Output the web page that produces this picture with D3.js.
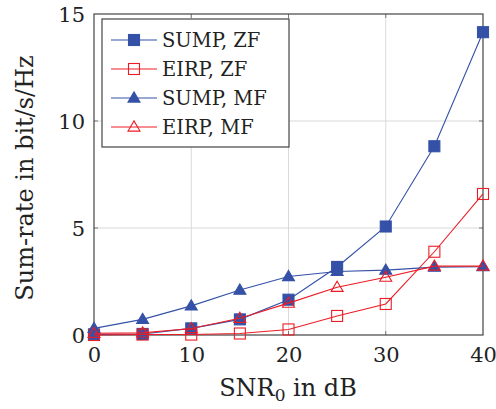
<!DOCTYPE html>
<html><head><meta charset="utf-8">
<script src="https://cdn.jsdelivr.net/npm/d3@7"></script>
<style>
html,body{margin:0;padding:0;background:#fff;}
</style></head>
<body><svg id="c" width="496" height="409"></svg>
<script>
const snr = [0, 5, 10, 15, 20, 25, 30, 35, 40];
const sumpZF = [0.03, 0.05, 0.31, 0.73, 1.65, 3.18, 5.07, 8.82, 14.15];
const eirpZF = [0.0, 0.02, 0.02, 0.07, 0.26, 0.89, 1.45, 3.89, 6.59];
const sumpMF = [0.31, 0.73, 1.36, 2.1, 2.73, 2.97, 3.03, 3.17, 3.19];
const eirpMF = [0.08, 0.1, 0.3, 0.78, 1.49, 2.23, 2.7, 3.22, 3.22];
const xTicks = [0, 10, 20, 30, 40];
const yTicks = [0, 5, 10, 15];
const seriesNames = ["SUMP, ZF", "EIRP, ZF", "SUMP, MF", "EIRP, MF"];

const FONT = "'DejaVu Serif', serif";
const FS_TICK = 21, FS_LAB = 24, FS_LEG = 19.5;
const BLUE = "#3451a7", RED = "#ec1c24";
const series = [
  {name: seriesNames[0], vals: sumpZF, color: BLUE, marker: "square", filled: true},
  {name: seriesNames[1], vals: eirpZF, color: RED, marker: "square", filled: false},
  {name: seriesNames[2], vals: sumpMF, color: BLUE, marker: "triangle", filled: true},
  {name: seriesNames[3], vals: eirpMF, color: RED, marker: "triangle", filled: false}
];

const L = 94, R = 483, T = 14, B = 335;
const svg = d3.select("#c");
const x = d3.scaleLinear().domain([0, 40]).range([L, R]);
const y = d3.scaleLinear().domain([0, 15]).range([B, T]);

const g = svg.append("g");
g.selectAll(".gx").data(xTicks.slice(1, -1)).enter().append("line")
  .attr("x1", d => x(d)).attr("x2", d => x(d)).attr("y1", T).attr("y2", B)
  .attr("stroke", "#d9d9d9").attr("stroke-width", 1);
g.selectAll(".gy").data(yTicks.slice(1, -1)).enter().append("line")
  .attr("y1", d => y(d)).attr("y2", d => y(d)).attr("x1", L).attr("x2", R)
  .attr("stroke", "#d9d9d9").attr("stroke-width", 1);

const tk = 4;
xTicks.slice(1, -1).forEach(d => {
  g.append("line").attr("x1", x(d)).attr("x2", x(d)).attr("y1", B).attr("y2", B - tk).attr("stroke", "#777");
  g.append("line").attr("x1", x(d)).attr("x2", x(d)).attr("y1", T).attr("y2", T + tk).attr("stroke", "#777");
});
yTicks.slice(1, -1).forEach(d => {
  g.append("line").attr("y1", y(d)).attr("y2", y(d)).attr("x1", L).attr("x2", L + tk).attr("stroke", "#777");
  g.append("line").attr("y1", y(d)).attr("y2", y(d)).attr("x1", R).attr("x2", R - tk).attr("stroke", "#777");
});

const xAxis = d3.axisBottom(x).tickValues(xTicks).tickSize(0).tickPadding(12).tickFormat(d3.format("d"));
const yAxis = d3.axisLeft(y).tickValues(yTicks).tickSize(0).tickPadding(9).tickFormat(d3.format("d"));
const gx = svg.append("g").attr("transform", `translate(0,${B})`).call(xAxis);
const gy = svg.append("g").attr("transform", `translate(${L},0)`).call(yAxis);
[gx, gy].forEach(a => {
  a.select(".domain").remove();
  a.attr("font-family", null).attr("font-size", null);
  a.selectAll("text").style("font-family", FONT).style("font-size", FS_TICK + "px").attr("fill", "#222");
});
gy.selectAll("text").attr("dy", "0.36em");

svg.append("rect").attr("x", L).attr("y", T).attr("width", R - L).attr("height", B - T)
  .attr("fill", "none").attr("stroke", "#444").attr("stroke-width", 1.2);

const line = d3.line().x((d, i) => x(snr[i])).y(d => y(d));
const sq = 11, tri = 12;
function drawMarker(sel, s, cx, cy) {
  if (s.marker === "square") {
    sel.append("rect").attr("x", cx - sq / 2).attr("y", cy - sq / 2).attr("width", sq).attr("height", sq)
      .attr("fill", s.filled ? s.color : "none").attr("stroke", s.color).attr("stroke-width", 1.1);
  } else {
    const h = tri * 0.85;
    sel.append("path").attr("d", `M${cx},${cy - h * 0.6}L${cx + tri / 2},${cy + h * 0.4}L${cx - tri / 2},${cy + h * 0.4}Z`)
      .attr("fill", s.filled ? s.color : "none").attr("stroke", s.color).attr("stroke-width", 1.1);
  }
}
series.forEach(s => {
  const sg = svg.append("g");
  sg.append("path").datum(s.vals).attr("d", line).attr("fill", "none")
    .attr("stroke", s.color).attr("stroke-width", 1.1);
  s.vals.forEach((v, i) => drawMarker(sg, s, x(snr[i]), y(v)));
});

const lg = svg.append("g");
lg.append("rect").attr("x", 102).attr("y", 19).attr("width", 187).attr("height", 128)
  .attr("fill", "#fff").attr("stroke", "#444").attr("stroke-width", 1.2);
series.forEach((s, i) => {
  const yy = 40 + i * 29;
  lg.append("line").attr("x1", 111).attr("x2", 157).attr("y1", yy).attr("y2", yy)
    .attr("stroke", s.color).attr("stroke-width", 1.1);
  drawMarker(lg, s, 134, yy);
  lg.append("text").attr("x", 162).attr("y", yy).attr("dy", "0.36em")
    .style("font-family", FONT).style("font-size", FS_LEG + "px").attr("fill", "#222").text(s.name);
});

const xl = svg.append("text").attr("x", 288).attr("y", 396).attr("text-anchor", "middle")
  .style("font-family", FONT).style("font-size", FS_LAB + "px").attr("fill", "#222");
xl.append("tspan").text("SNR");
xl.append("tspan").style("font-size", "17px").attr("dy", 5).text("0");
xl.append("tspan").attr("dy", -5).text(" in dB");
svg.append("text").attr("transform", "translate(33,178) rotate(-90)").attr("text-anchor", "middle")
  .style("font-family", FONT).style("font-size", FS_LAB + "px").attr("fill", "#222").text("Sum-rate in bit/s/Hz");
</script></body></html>
